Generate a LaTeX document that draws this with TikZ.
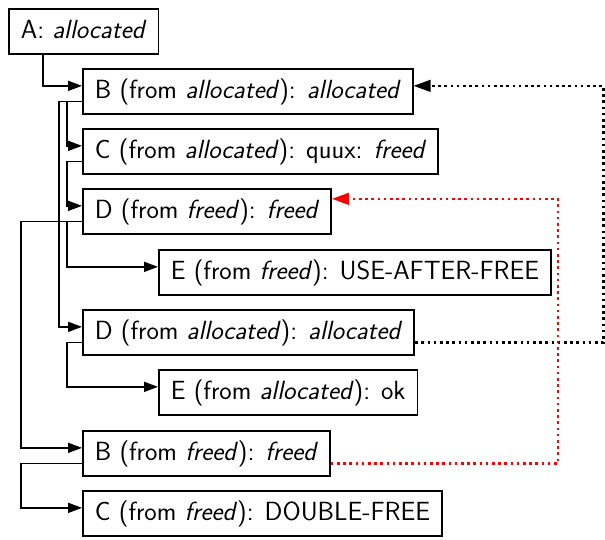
\documentclass[tikz,border=0pt]{standalone}
\usepackage{fontspec}
\usetikzlibrary{arrows.meta}
\begin{document}
\begin{tikzpicture}[x=1pt,y=-1pt,
  state/.style={draw=black, line width=1.7pt, fill=white, anchor=north west,
    minimum height=45pt, inner xsep=12pt, inner ysep=0pt,
    text height=19pt, text depth=4pt,
    font=\sffamily\fontsize{26.3}{30}\selectfont},
  tree/.style={line width=1.7pt, -{Triangle[length=14pt,width=10pt]}},
  link/.style={line width=2.4pt, dash pattern=on 2.6pt off 3.6pt,
    -{Triangle[length=17pt,width=12.5pt,line width=0pt]}}
]
\useasboundingbox (0,0) rectangle (605,539);

% states of the walk
\node[state] (A)  at (8,8)     {A: \textit{allocated}};
\node[state] (B1) at (82,68)   {B (from \textit{allocated}): \textit{allocated}};
\node[state] (C1) at (82,128)  {C (from \textit{allocated}): quux: \textit{freed}};
\node[state] (D1) at (82,188)  {D (from \textit{freed}): \textit{freed}};
\node[state] (E1) at (158,249) {E (from \textit{freed}): USE-AFTER-FREE};
\node[state] (D2) at (82,309)  {D (from \textit{allocated}): \textit{allocated}};
\node[state] (E2) at (158,369) {E (from \textit{allocated}): ok};
\node[state] (B2) at (82,430)  {B (from \textit{freed}): \textit{freed}};
\node[state] (C2) at (82,490)  {C (from \textit{freed}): DOUBLE-FREE};

% tree edges
\draw[tree] ([xshift=35pt]A.south west) |- ([yshift=5.5pt]B1.west);
\draw[tree] ([yshift=-10pt]B1.west) -- ++(-15,0) |- ([yshift=5.5pt]C1.west);
\draw[tree] ([yshift=-10pt]B1.west) -- ++(-23,0) |- ([yshift=5.5pt]D2.west);
\draw[tree] ([yshift=-10pt]C1.west) -- ++(-15,0) |- ([yshift=5.5pt]D1.west);
\draw[tree] ([yshift=-10pt]D1.west) -- ++(-15,0) |- ([yshift=5.5pt]E1.west);
\draw[tree] ([yshift=-10pt]D1.west) -- ++(-61,0) |- ([yshift=5.5pt]B2.west);
\draw[tree] ([yshift=-10pt]D2.west) -- ++(-15,0) |- ([yshift=5.5pt]E2.west);
\draw[tree] ([yshift=-10pt]B2.west) -- ++(-61,0) |- ([yshift=5.5pt]C2.west);

% back links
\coordinate (blk) at (603.5,200);
\coordinate (rd)  at (558,300);
\draw[link] ([yshift=-10pt]D2.east) -| (blk) |- ([yshift=5.5pt]B1.east);
\draw[link, red] ([yshift=-10pt]B2.east) -| (rd) |- ([yshift=12.5pt]D1.east);
\end{tikzpicture}
\end{document}
